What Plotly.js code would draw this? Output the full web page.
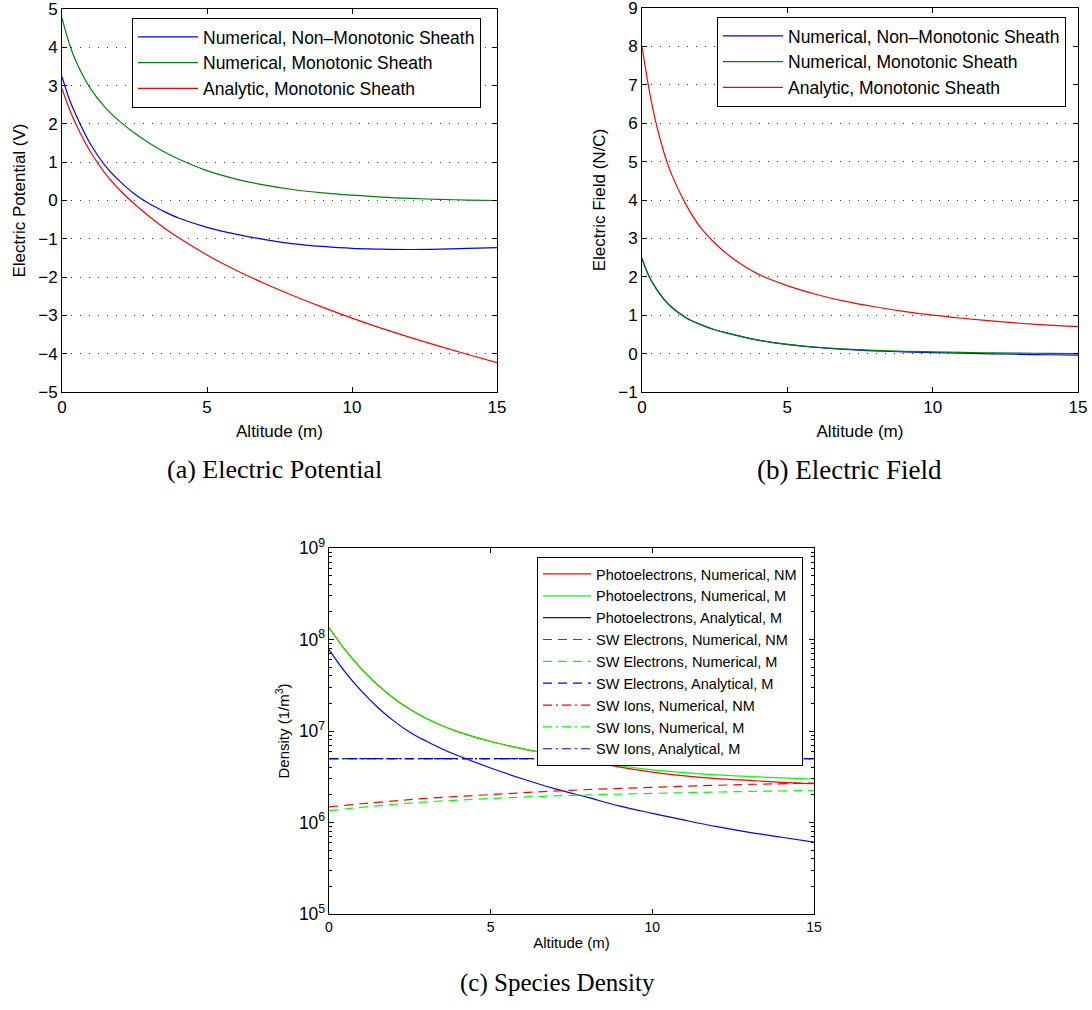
<!DOCTYPE html>
<html>
<head>
<meta charset="utf-8">
<script src="https://cdn.plot.ly/plotly-3.0.1.min.js"></script>
<style>html,body{margin:0;padding:0;background:#fff;}#chart{width:1092px;height:1010px;}</style>
</head>
<body>
<div id="chart"></div>
<script>
// ---------- (a) Electric Potential ----------
const altA = [0, 0.25, 0.5, 1, 1.5, 2, 2.5, 3, 3.5, 4, 5, 6, 7, 8, 9, 10, 11, 12, 13, 14, 15];
const potNumNonMono = [3.23, 2.65, 2.2, 1.45, 0.9, 0.5, 0.17, -0.08, -0.28, -0.45, -0.7, -0.88, -1.02, -1.13, -1.2, -1.25, -1.27, -1.28, -1.27, -1.25, -1.23];
const potNumMono = [4.77, 4.1, 3.6, 2.9, 2.42, 2.06, 1.76, 1.5, 1.28, 1.09, 0.78, 0.56, 0.4, 0.28, 0.2, 0.14, 0.09, 0.055, 0.03, 0.012, 0.0];
const potAnaMono = [2.92, 2.395, 1.958, 1.248, 0.698, 0.268, -0.092, -0.412, -0.702, -0.962, -1.422, -1.822, -2.172, -2.492, -2.792, -3.072, -3.332, -3.572, -3.802, -4.022, -4.232];

// ---------- (b) Electric Field ----------
const altB = [0, 0.25, 0.5, 0.75, 1, 1.5, 2, 2.5, 3, 4, 5, 6, 7, 8, 9, 10, 11, 12, 13, 14, 15];
const fieldNumNonMono = [2.48, 2.0, 1.68, 1.42, 1.22, 0.94, 0.76, 0.62, 0.52, 0.35, 0.24, 0.16, 0.11, 0.07, 0.045, 0.025, 0.01, -0.005, -0.018, -0.03, -0.04];
const fieldNumMono = [2.48, 2.0, 1.68, 1.42, 1.22, 0.94, 0.76, 0.62, 0.52, 0.35, 0.24, 0.165, 0.12, 0.085, 0.06, 0.045, 0.03, 0.02, 0.012, 0.006, 0.0];
const fieldAnaMono = [8.0, 6.85, 5.95, 5.25, 4.7, 3.9, 3.3, 2.88, 2.55, 2.07, 1.77, 1.54, 1.36, 1.22, 1.1, 1.0, 0.92, 0.85, 0.79, 0.74, 0.70];

// ---------- (c) Species Density ----------
const altC = [0, 0.5, 1, 1.5, 2, 2.5, 3, 3.5, 4, 5, 6, 7, 8, 9, 10, 11, 12, 13, 14, 15];
const photoNumNM = [1.35e8, 7.69e7, 4.79e7, 3.2e7, 2.28e7, 1.73e7, 1.38e7, 1.143e7, 9.79e6, 7.67e6, 6.38e6, 5.46e6, 4.7e6, 4.03e6, 3.56e6, 3.24e6, 3.02e6, 2.88e6, 2.75e6, 2.66e6];
const photoNumM = [1.35e8, 7.69e7, 4.79e7, 3.2e7, 2.28e7, 1.73e7, 1.38e7, 1.143e7, 9.79e6, 7.67e6, 6.38e6, 5.46e6, 4.79e6, 4.17e6, 3.76e6, 3.51e6, 3.31e6, 3.18e6, 3.07e6, 2.99e6];
const photoAnaM = [7.76e7, 4.41e7, 2.74e7, 1.82e7, 1.29e7, 9.68e6, 7.76e6, 6.35e6, 5.36e6, 3.94e6, 2.99e6, 2.33e6, 1.88e6, 1.51e6, 1.26e6, 1.06e6, 9.0e5, 7.8e5, 6.9e5, 6.1e5];
const altSW = [0, 2.5, 5, 7.5, 10, 12.5, 15];
const swElecNumNM = [1.48e6, 1.78e6, 2.02e6, 2.25e6, 2.42e6, 2.58e6, 2.7e6];
const swElecNumM = [1.35e6, 1.63e6, 1.83e6, 1.98e6, 2.08e6, 2.17e6, 2.24e6];
const swElecAnaM = [5e6, 5e6, 5e6, 5e6, 5e6, 5e6, 5e6];
const swIonNumNM = [5e6, 5e6, 5e6, 5e6, 5e6, 5e6, 5e6];
const swIonNumM = [5e6, 5e6, 5e6, 5e6, 5e6, 5e6, 5e6];
const swIonAnaM = [5e6, 5e6, 5e6, 5e6, 5e6, 5e6, 5e6];

const namesTop = ['Numerical, Non\u2013Monotonic Sheath', 'Numerical, Monotonic Sheath', 'Analytic, Monotonic Sheath'];
const namesC = ['Photoelectrons, Numerical, NM', 'Photoelectrons, Numerical, M', 'Photoelectrons, Analytical, M',
  'SW Electrons, Numerical, NM', 'SW Electrons, Numerical, M', 'SW Electrons, Analytical, M',
  'SW Ions, Numerical, NM', 'SW Ions, Numerical, M', 'SW Ions, Analytical, M'];
const captions = ['(a) Electric Potential', '(b) Electric Field', '(c) Species Density'];

const SANS = 'Liberation Sans, Arial, Helvetica, sans-serif';
const SERIF = 'Liberation Serif, Times New Roman, serif';
const BLUE = '#0000ff', DGREEN = '#008000', RED = '#ff0000', LGREEN = '#00ff00';
const DASH = '9px,6px';
const DASHDOT = '9px,4px,2px,4px';

function ln(x, y, name, color, xa, ya, legend, dash) {
  return {x: x, y: y, name: name, type: 'scatter', mode: 'lines',
    line: {color: color, width: 1.2, shape: 'spline', smoothing: 1, dash: dash || 'solid'},
    xaxis: xa, yaxis: ya, legend: legend, hoverinfo: 'skip'};
}

const traces = [
  ln(altA, potNumNonMono, namesTop[0], BLUE, 'x', 'y', 'legend'),
  ln(altA, potNumMono, namesTop[1], DGREEN, 'x', 'y', 'legend'),
  ln(altA, potAnaMono, namesTop[2], RED, 'x', 'y', 'legend'),
  ln(altB, fieldNumNonMono, namesTop[0], BLUE, 'x2', 'y2', 'legend2'),
  ln(altB, fieldNumMono, namesTop[1], DGREEN, 'x2', 'y2', 'legend2'),
  ln(altB, fieldAnaMono, namesTop[2], RED, 'x2', 'y2', 'legend2'),
  ln(altC, photoNumNM, namesC[0], RED, 'x3', 'y3', 'legend3'),
  ln(altC, photoNumM, namesC[1], LGREEN, 'x3', 'y3', 'legend3'),
  ln(altC, photoAnaM, namesC[2], BLUE, 'x3', 'y3', 'legend3'),
  ln(altSW, swElecNumNM, namesC[3], RED, 'x3', 'y3', 'legend3', DASH),
  ln(altSW, swElecNumM, namesC[4], LGREEN, 'x3', 'y3', 'legend3', DASH),
  ln(altSW, swElecAnaM, namesC[5], BLUE, 'x3', 'y3', 'legend3', DASH),
  ln(altSW, swIonNumNM, namesC[6], RED, 'x3', 'y3', 'legend3', DASHDOT),
  ln(altSW, swIonNumM, namesC[7], LGREEN, 'x3', 'y3', 'legend3', DASHDOT),
  ln(altSW, swIonAnaM, namesC[8], BLUE, 'x3', 'y3', 'legend3', DASHDOT)
];

function xax(domain, anchor, fs, tfs, standoff) {
  return {domain: domain, anchor: anchor, range: [0, 15], tickvals: [0, 5, 10, 15],
    ticks: 'inside', ticklen: 5, tickcolor: '#000', mirror: 'ticks', showline: true,
    linecolor: '#000', linewidth: 1, showgrid: false, zeroline: false, ticklabeloverflow: 'allow',
    tickfont: {family: SANS, size: fs, color: '#000'},
    title: {text: 'Altitude (m)', font: {family: SANS, size: tfs, color: '#000'}, standoff: standoff}};
}
function yax(domain, anchor, range, dtick, title, fs, standoff) {
  return {domain: domain, anchor: anchor, range: range, dtick: dtick, tick0: 0,
    ticks: 'inside', ticklen: 5, tickcolor: '#000', mirror: 'ticks', showline: true,
    linecolor: '#000', linewidth: 1, zeroline: false, ticklabeloverflow: 'allow',
    showgrid: true, gridcolor: '#333', gridwidth: 1, griddash: '1px,8px',
    tickfont: {family: SANS, size: fs, color: '#000'},
    title: {text: title, font: {family: SANS, size: fs, color: '#000'}, standoff: standoff}};
}
function leg(x, y, fs, iw) {
  return {x: x, y: y, xanchor: 'left', yanchor: 'top', bgcolor: '#fff',
    bordercolor: '#000', borderwidth: 1, font: {family: SANS, size: fs, color: '#000'},
    tracegroupgap: 0, itemwidth: iw};
}

const W = 1092, H = 1010;
const layout = {
  width: W, height: H, margin: {l: 0, r: 0, t: 0, b: 0},
  paper_bgcolor: '#fff', plot_bgcolor: '#fff', showlegend: true,
  xaxis: xax([62 / W, 497 / W], 'y', 17, 17, 8),
  yaxis: yax([1 - 392 / H, 1 - 9 / H], 'x', [-5, 5], 1, 'Electric Potential (V)', 17, 8),
  xaxis2: xax([642 / W, 1078 / W], 'y2', 17, 17, 8),
  yaxis2: yax([1 - 392 / H, 1 - 8 / H], 'x2', [-1, 9], 1, 'Electric Field (N/C)', 17, 8),
  xaxis3: xax([329 / W, 814 / W], 'y3', 14, 15, 3),
  yaxis3: {domain: [1 - 914 / H, 1 - 548 / H], anchor: 'x3', type: 'log', range: [5, 9],
    dtick: 1, exponentformat: 'power', showexponent: 'all', ticklabeloverflow: 'allow',
    ticks: 'inside', ticklen: 5, tickcolor: '#000', mirror: 'allticks', showline: true,
    linecolor: '#000', linewidth: 1, showgrid: false, zeroline: false,
    minor: {ticks: 'inside', ticklen: 3, tickcolor: '#000', dtick: 'D1', showgrid: false},
    tickfont: {family: SANS, size: 14, color: '#000'},
    title: {text: 'Density (1/m<sup>3</sup>)', font: {family: SANS, size: 15, color: '#000'}, standoff: 5}},
  legend: leg(132 / W, 1 - 18 / H, 17.5, 60),
  legend2: leg(717 / W, 1 - 17 / H, 17.5, 60),
  legend3: leg(537 / W, 1 - 557 / H, 14.5, 48),
  annotations: [
    {text: captions[0], xref: 'paper', yref: 'paper', x: 274 / W, y: 1 - 470 / H, xanchor: 'center', yanchor: 'middle', showarrow: false, font: {family: SERIF, size: 26, color: '#000'}},
    {text: captions[1], xref: 'paper', yref: 'paper', x: 849 / W, y: 1 - 470 / H, xanchor: 'center', yanchor: 'middle', showarrow: false, font: {family: SERIF, size: 27, color: '#000'}},
    {text: captions[2], xref: 'paper', yref: 'paper', x: 557 / W, y: 1 - 983 / H, xanchor: 'center', yanchor: 'middle', showarrow: false, font: {family: SERIF, size: 25, color: '#000'}}
  ]
};

Plotly.newPlot('chart', traces, layout, {staticPlot: true, displayModeBar: false});
</script>
</body>
</html>
